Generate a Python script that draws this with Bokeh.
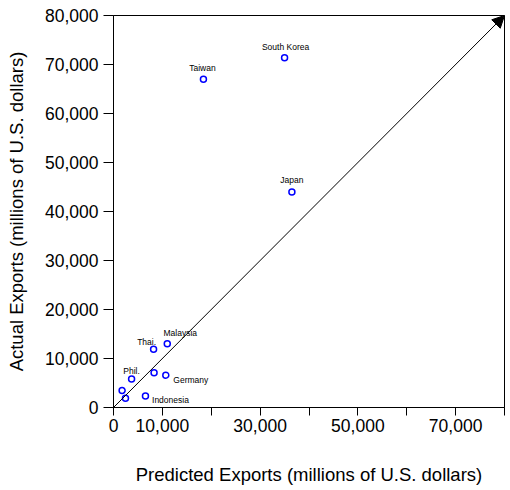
from bokeh.plotting import figure
from bokeh.models import Range1d, FixedTicker, NumeralTickFormatter, Arrow, NormalHead, ColumnDataSource
from bokeh.core.properties import value
from bokeh.embed import file_html
from bokeh.resources import INLINE

# ---- data ----
countries = ["South Korea", "Taiwan", "Japan", "Malaysia", "Thai.", "", "Germany", "Phil.", "", "", "Indonesia"]
predicted = [35000, 18400, 36500, 11000, 8200, 8300, 10700, 3700, 1760, 2450, 6540]
actual = [71400, 67000, 44000, 13000, 11900, 7100, 6600, 5800, 3470, 1900, 2370]

# 45-degree reference line (start and end)
line_x = [0, 80000]
line_y = [0, 80000]

x_ticks = [0, 10000, 20000, 30000, 40000, 50000, 60000, 70000, 80000]
y_ticks = [0, 10000, 20000, 30000, 40000, 50000, 60000, 70000, 80000]
x_tick_labels = {0: "0", 10000: "10,000", 20000: "", 30000: "30,000", 40000: "",
                 50000: "50,000", 60000: "", 70000: "70,000", 80000: ""}

# label placement (pixel offsets from each point), styling only
label_dx = [1, -1, 0, 13, -7, 0, 25, 0, 0, 0, 25]
label_dy = [-11, -11, -12, -11, -7, 0, 5, -8, 0, 0, 4]

FONT = "Liberation Sans"

p = figure(frame_width=391, frame_height=392,
           x_range=Range1d(0, 80000), y_range=Range1d(0, 80000),
           output_backend="svg", toolbar_location=None,
           min_border_left=113, min_border_right=3, min_border_top=15, min_border_bottom=80)

p.background_fill_color = "white"
p.border_fill_color = "white"
p.outline_line_color = "black"
p.outline_line_width = 1
p.outline_line_alpha = 1
p.xgrid.visible = False
p.ygrid.visible = False

for ax in (p.xaxis[0], p.yaxis[0]):
    ax.axis_line_color = "black"
    ax.major_tick_line_color = "black"
    ax.minor_tick_line_color = None
    ax.major_tick_in = 0
    ax.major_label_text_font = FONT
    ax.major_label_text_font_size = "17.5px"
    ax.major_label_text_color = "black"
    ax.axis_label_text_font = FONT
    ax.axis_label_text_font_size = "18.5px"
    ax.axis_label_text_font_style = "normal"
    ax.axis_label_text_color = "black"

p.xaxis.ticker = FixedTicker(ticks=x_ticks)
p.yaxis.ticker = FixedTicker(ticks=y_ticks)
p.xaxis.major_label_overrides = x_tick_labels
p.yaxis.formatter = NumeralTickFormatter(format="0,0")
p.xaxis.major_tick_out = 8
p.yaxis.major_tick_out = 10
p.xaxis.major_label_standoff = 3
p.yaxis.major_label_standoff = 5
p.xaxis.axis_label_standoff = 29
p.yaxis.axis_label_standoff = 15
p.xaxis.axis_label = "Predicted Exports (millions of U.S. dollars)"
p.yaxis.axis_label = "Actual Exports (millions of U.S. dollars)"

p.add_layout(Arrow(end=NormalHead(size=12, fill_color="black", line_color="black", line_width=1),
                   x_start=line_x[0], y_start=line_y[0], x_end=line_x[1], y_end=line_y[1],
                   line_color="black", line_width=1))

src = ColumnDataSource(dict(x=predicted, y=actual, name=countries, dx=label_dx, dy=label_dy))
p.scatter("x", "y", source=src, size=6, fill_color=None, line_color="#0000FF", line_width=1.5)
p.text("x", "y", text="name", source=src, x_offset="dx", y_offset="dy",
       text_font=value(FONT), text_font_size="8.5px", text_color="black",
       text_align="center", text_baseline="middle")

open("out.html", "w").write(file_html(p, INLINE))
